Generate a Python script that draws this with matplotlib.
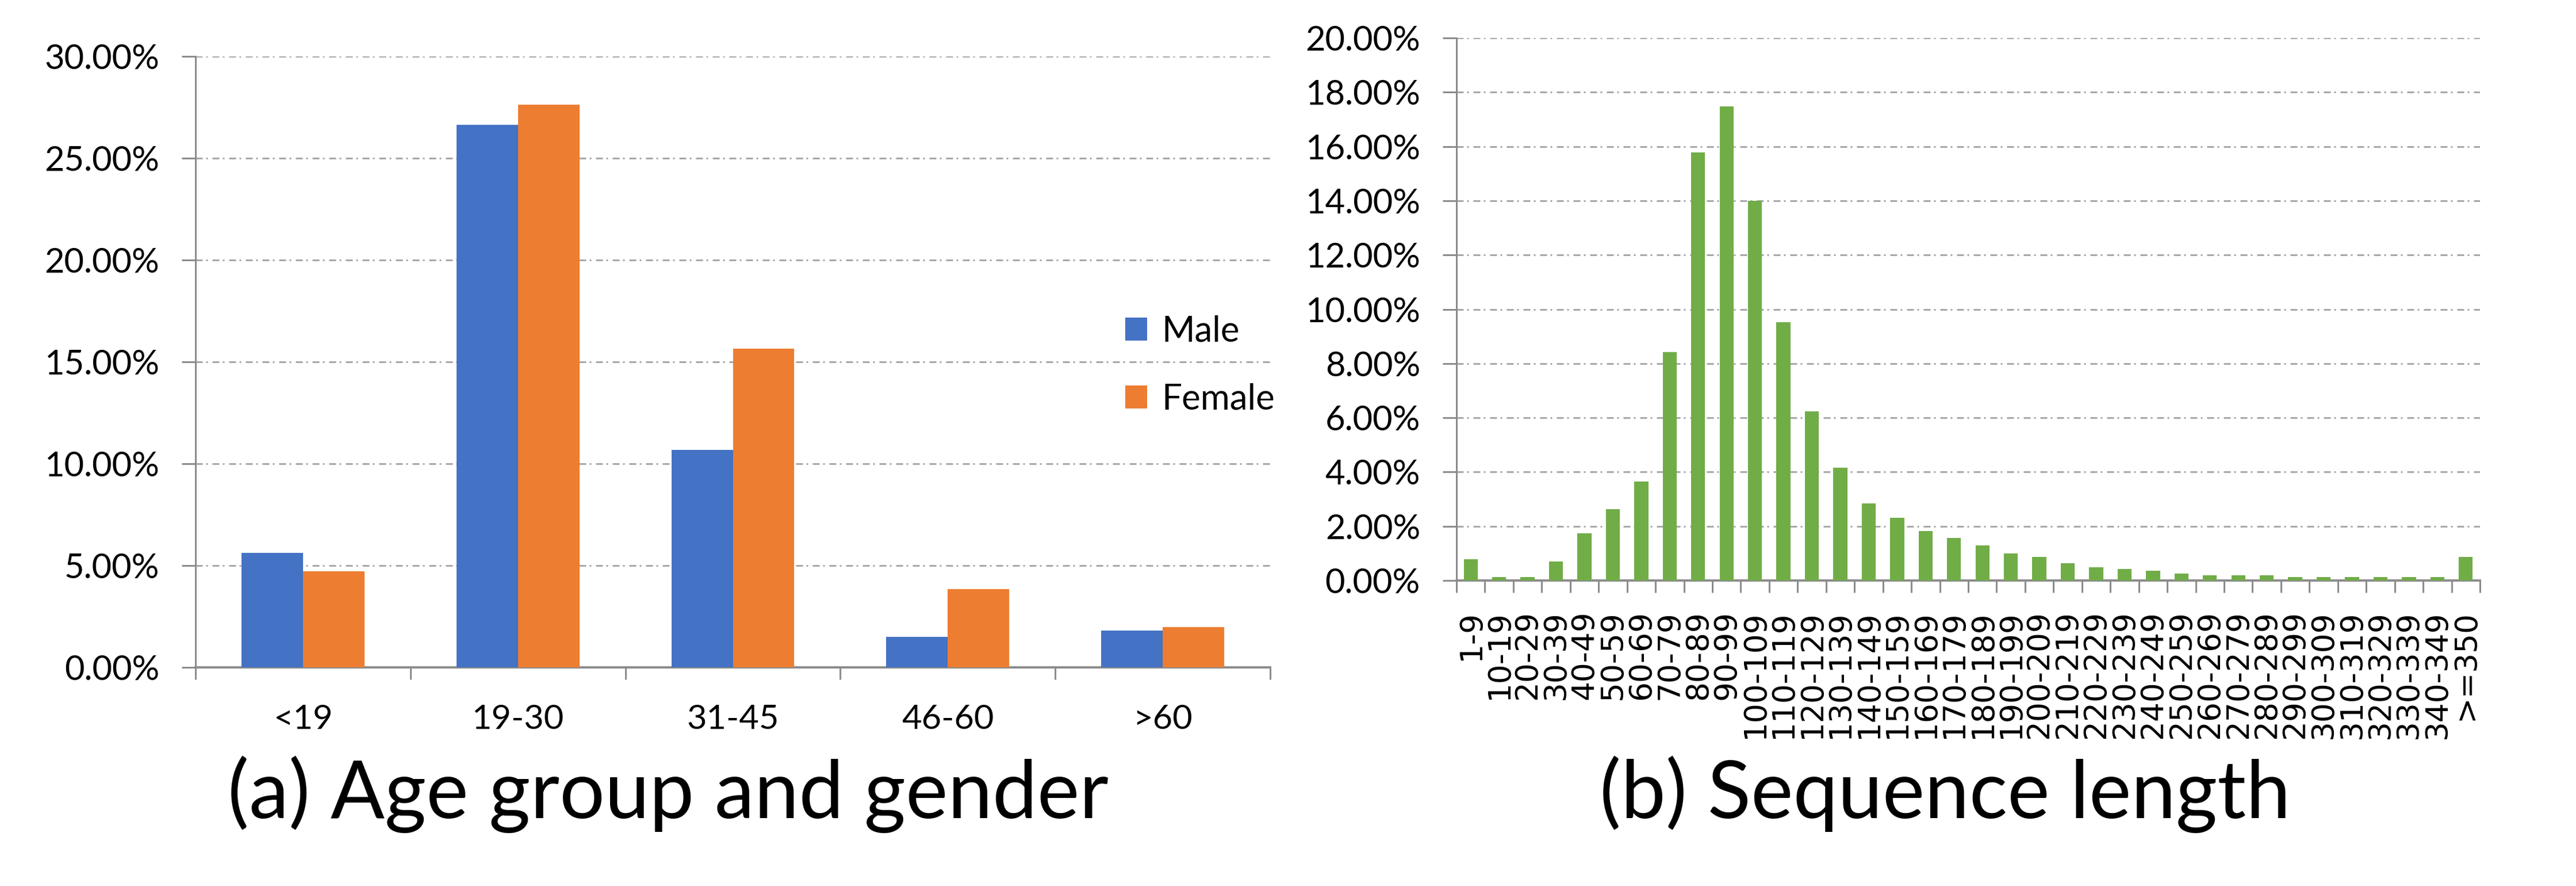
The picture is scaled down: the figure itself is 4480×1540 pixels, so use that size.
import matplotlib
matplotlib.use("Agg")
import matplotlib.pyplot as plt
from matplotlib.patches import Patch
from matplotlib.ticker import FixedLocator, FuncFormatter
import numpy as np

# ---------------- data ----------------
age_groups = ["<19", "19-30", "31-45", "46-60", ">60"]
male = [5.62, 26.63, 10.68, 1.50, 1.80]
female = [4.73, 27.62, 15.66, 3.84, 1.97]

seq_bins = ["1-9", "10-19", "20-29", "30-39", "40-49", "50-59", "60-69",
            "70-79", "80-89", "90-99", "100-109", "110-119", "120-129",
            "130-139", "140-149", "150-159", "160-169", "170-179", "180-189",
            "190-199", "200-209", "210-219", "220-229", "230-239", "240-249",
            "250-259", "260-269", "270-279", "280-289", "290-299", "300-309",
            "310-319", "320-329", "330-339", "340-349", ">=350"]
seq_pct = [0.79, 0.12, 0.12, 0.70, 1.74, 2.62, 3.64, 8.43, 15.78, 17.47,
           14.00, 9.53, 6.23, 4.15, 2.85, 2.32, 1.83, 1.58, 1.30, 1.00,
           0.86, 0.63, 0.49, 0.42, 0.35, 0.26, 0.19, 0.19, 0.19, 0.12,
           0.12, 0.12, 0.12, 0.12, 0.12, 0.86]

left_ticks = [0, 5, 10, 15, 20, 25, 30]
right_ticks = [0, 2, 4, 6, 8, 10, 12, 14, 16, 18, 20]

titles = ["(a) Age group and gender", "(b) Sequence length"]
legend_labels = ["Male", "Female"]

# ---------------- style ----------------
W, H = 4480, 1540
DPI = 100
PX = 72.0 / DPI  # px -> pt

plt.rcParams["font.family"] = ["Lato", "DejaVu Sans"]
plt.rcParams["lines.scale_dashes"] = False

BLUE = "#4472C4"
ORANGE = "#ED7D31"
GREEN = "#70AD47"
GRID = "#A8A8A8"
AXIS = "#8C8C8C"
dash = (0, (12 * PX, 6 * PX, 3 * PX, 8 * PX))

fig = plt.figure(figsize=(W / DPI, H / DPI), dpi=DPI)
renderer = fig.canvas.get_renderer()


def text_width_px(s, size, family):
    t = fig.text(0, 0, s, fontsize=size, family=family)
    w = t.get_window_extent(renderer).width
    t.remove()
    return w


def fit_size(s, target_px, family):
    w = text_width_px(s, 40, family)
    return 40 * target_px / w


def text_height_px(s, size, family):
    t = fig.text(0, 0, s, fontsize=size, family=family)
    h = t.get_window_extent(renderer).height
    t.remove()
    return h


LATO = ["Lato", "DejaVu Sans"]
DJV = ["DejaVu Sans"]

# font sizes fitted to the reference text widths (in px)
fs_tick = fit_size("30.00%", 200, LATO)
fs_leg = fit_size("Female", 197, LATO)
fs_xlab = fit_size("19-30", 160, LATO)
fs_rot = fit_size("340-349", 223, DJV)
fs_title = 0.5 * (fit_size(titles[0], 1533, LATO) +
                  fit_size(titles[1], 1197, LATO))


def fig_rect(x0, x1, ytop, ybot):
    return [x0 / W, 1 - ybot / H, (x1 - x0) / W, (ybot - ytop) / H]


def style_axes(ax, ymax, yticks, ncat, xlab_pad_px):
    ax.set_ylim(0, ymax)
    ax.set_xlim(-0.5, ncat - 0.5)
    for s in ["top", "right"]:
        ax.spines[s].set_visible(False)
    ax.spines["left"].set_color(AXIS)
    ax.spines["left"].set_linewidth(3 * PX)
    ax.spines["bottom"].set_color(AXIS)
    ax.spines["bottom"].set_linewidth(4 * PX)
    ax.set_axisbelow(True)
    ax.yaxis.set_major_locator(FixedLocator(yticks))
    ax.yaxis.set_major_formatter(FuncFormatter(lambda v, p: f"{v:.2f}%"))
    ax.yaxis.grid(True, color=GRID, linewidth=3 * PX, linestyle=dash)
    ax.tick_params(axis="y", which="major", direction="out", length=24 * PX,
                   width=3 * PX, color=AXIS, pad=39 * PX, labelsize=fs_tick,
                   labelcolor="black")
    ax.set_xticks(np.arange(ncat))
    ax.set_xticks(np.arange(ncat + 1) - 0.5, minor=True)
    ax.tick_params(axis="x", which="major", length=0, pad=xlab_pad_px * PX)
    ax.tick_params(axis="x", which="minor", direction="out", length=21 * PX,
                   width=3 * PX, color=AXIS)


# ---------------- (a) ----------------
ax1 = fig.add_axes(fig_rect(340, 2209, 98, 1160))
x = np.arange(len(age_groups))
bw = 107 / 374
ax1.bar(x - bw / 2, male, width=bw, color=BLUE, zorder=3)
ax1.bar(x + bw / 2, female, width=bw, color=ORANGE, zorder=3)
style_axes(ax1, 30, left_ticks, len(age_groups), 64)
ax1.set_xticklabels(age_groups, fontsize=fs_xlab)

handles = [Patch(facecolor=BLUE, edgecolor="none", label=legend_labels[0]),
           Patch(facecolor=ORANGE, edgecolor="none", label=legend_labels[1])]
em = fs_leg / PX
row_h = text_height_px("Female", fs_leg, LATO)
spacing = (118 - row_h) / em
fig.legend(handles=handles, loc="center left",
           bbox_to_anchor=(1957 / W, 1 - 635 / H), frameon=False,
           fontsize=fs_leg, handlelength=38 / em, handleheight=38 / em,
           handletextpad=25 / em, labelspacing=spacing, borderpad=0,
           borderaxespad=0)

# ---------------- (b) ----------------
ax2 = fig.add_axes(fig_rect(2533, 4313, 66, 1009))
x2 = np.arange(len(seq_bins))
ax2.bar(x2, seq_pct, width=0.49, color=GREEN, zorder=3)
style_axes(ax2, 20, right_ticks, len(seq_bins), 52)
ax2.set_xticklabels(seq_bins, rotation=90, fontsize=fs_rot, family=DJV)

# ---------------- titles ----------------
fig.text(1162 / W, 1 - 1422 / H, titles[0], ha="center", va="baseline",
         fontsize=fs_title)
fig.text(3383 / W, 1 - 1422 / H, titles[1], ha="center", va="baseline",
         fontsize=fs_title)

fig.savefig("out.png", dpi=DPI, facecolor="white")
